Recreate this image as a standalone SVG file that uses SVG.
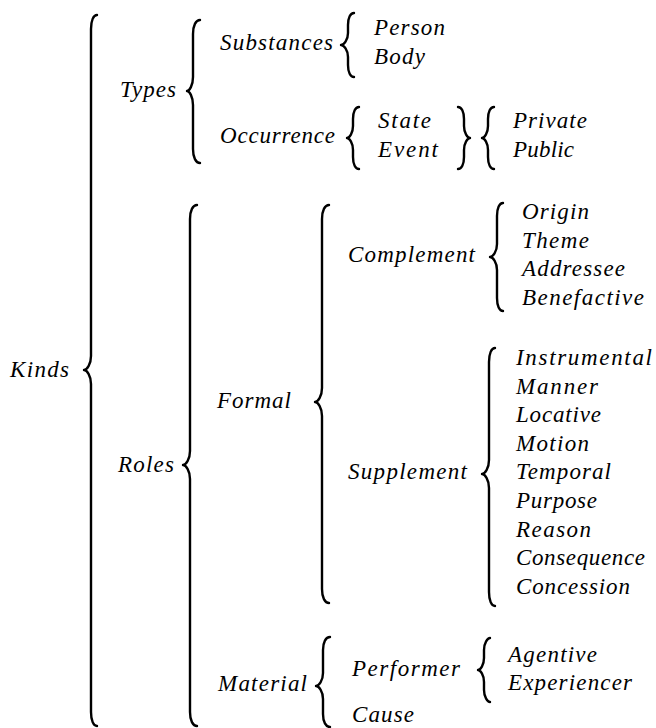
<svg xmlns="http://www.w3.org/2000/svg" width="656" height="728" viewBox="0 0 656 728">
<style>
.br{fill:none;stroke:#000;stroke-width:2.4;stroke-linecap:round;stroke-linejoin:round}
text{font-family:'Liberation Serif','DejaVu Serif',serif;font-style:italic;font-size:23px;fill:#000}
</style>
<rect width="656" height="728" fill="#fff"/>
<g id="connectors">
<path class="br" d="M97,15 C93.4,15 91,20.6 91,29 L91,356 C91,364.4 86.8,370 84,370 C86.8,370 91,375.6 91,384 L91,712 C91,720.4 93.4,726 97,726"/>
<path class="br" d="M200,20 C195.8,20 193,25.6 193,34 L193,77 C193,85.4 189.4,91 187,91 C189.4,91 193,96.6 193,105 L193,149 C193,157.4 195.8,163 200,163"/>
<path class="br" d="M354,13 C350.4,13 348,17.8 348,25 L348,33 C348,40.2 343.8,45 341,45 C343.8,45 348,49.8 348,57 L348,65 C348,72.2 350.4,77 354,77"/>
<path class="br" d="M359,107 C355.4,107 353,111.8 353,119 L353,126 C353,133.2 349.4,138 347,138 C349.4,138 353,142.8 353,150 L353,157 C353,164.2 355.4,169 359,169"/>
<path class="br" d="M458,107 C461.6,107 464,111.8 464,119 L464,126 C464,133.2 467.6,138 470,138 C467.6,138 464,142.8 464,150 L464,157 C464,164.2 461.6,169 458,169"/>
<path class="br" d="M494,107 C490.4,107 488,111.8 488,119 L488,126 C488,133.2 484.4,138 482,138 C484.4,138 488,142.8 488,150 L488,157 C488,164.2 490.4,169 494,169"/>
<path class="br" d="M197,205 C192.8,205 190,210.6 190,219 L190,451 C190,459.4 185.8,465 183,465 C185.8,465 190,470.6 190,479 L190,712 C190,720.4 192.8,726 197,726"/>
<path class="br" d="M329,205 C324.8,205 322,210.6 322,219 L322,388 C322,396.4 317.8,402 315,402 C317.8,402 322,407.6 322,416 L322,589 C322,597.4 324.8,603 329,603"/>
<path class="br" d="M503,203 C499.4,203 497,208.2 497,216 L497,244 C497,251.8 492.8,257 490,257 C492.8,257 497,262.2 497,270 L497,298 C497,305.8 499.4,311 503,311"/>
<path class="br" d="M495,348 C491.4,348 489,353.6 489,362 L489,460 C489,468.4 484.8,474 482,474 C484.8,474 489,479.6 489,488 L489,592 C489,600.4 491.4,606 495,606"/>
<path class="br" d="M330,637 C325.8,637 323,642.2 323,650 L323,673 C323,680.8 318.8,686 316,686 C318.8,686 323,691.2 323,699 L323,714 C323,721.8 325.8,727 330,727"/>
<path class="br" d="M490,638 C487.6,638 484,642.8 484,650 L484,658 C484,665.2 480.4,670 478,670 C480.4,670 484,674.8 484,682 L484,690 C484,697.2 487.6,702 490,702"/>
</g>
<g id="kinds"><text x="10" y="377" textLength="59" lengthAdjust="spacing">Kinds</text></g>
<g id="types"><text x="120" y="97" textLength="56" lengthAdjust="spacing">Types</text></g>
<g id="substances"><text x="220" y="50" textLength="113" lengthAdjust="spacing">Substances</text></g>
<g id="person"><text x="374" y="35" textLength="71" lengthAdjust="spacing">Person</text></g>
<g id="body"><text x="374" y="64" textLength="51" lengthAdjust="spacing">Body</text></g>
<g id="occurrence"><text x="220" y="143" textLength="115" lengthAdjust="spacing">Occurrence</text></g>
<g id="state"><text x="378" y="128" textLength="53" lengthAdjust="spacing">State</text></g>
<g id="event"><text x="378" y="157" textLength="60" lengthAdjust="spacing">Event</text></g>
<g id="private"><text x="513" y="128" textLength="74" lengthAdjust="spacing">Private</text></g>
<g id="public"><text x="513" y="157" textLength="61" lengthAdjust="spacing">Public</text></g>
<g id="roles"><text x="118" y="472" textLength="56" lengthAdjust="spacing">Roles</text></g>
<g id="formal"><text x="217" y="408" textLength="74" lengthAdjust="spacing">Formal</text></g>
<g id="complement"><text x="348" y="262" textLength="127" lengthAdjust="spacing">Complement</text></g>
<g id="origin"><text x="522" y="219" textLength="67" lengthAdjust="spacing">Origin</text></g>
<g id="theme"><text x="522" y="247.5" textLength="67" lengthAdjust="spacing">Theme</text></g>
<g id="addressee"><text x="522" y="276" textLength="103" lengthAdjust="spacing">Addressee</text></g>
<g id="benefactive"><text x="522" y="304.5" textLength="122" lengthAdjust="spacing">Benefactive</text></g>
<g id="supplement"><text x="348" y="479" textLength="119" lengthAdjust="spacing">Supplement</text></g>
<g id="instrumental"><text x="516" y="365" textLength="136" lengthAdjust="spacing">Instrumental</text></g>
<g id="manner"><text x="516" y="393.6" textLength="82" lengthAdjust="spacing">Manner</text></g>
<g id="locative"><text x="516" y="422.2" textLength="85" lengthAdjust="spacing">Locative</text></g>
<g id="motion"><text x="516" y="450.8" textLength="73" lengthAdjust="spacing">Motion</text></g>
<g id="temporal"><text x="516" y="479.4" textLength="95" lengthAdjust="spacing">Temporal</text></g>
<g id="purpose"><text x="516" y="508" textLength="81" lengthAdjust="spacing">Purpose</text></g>
<g id="reason"><text x="516" y="536.6" textLength="75" lengthAdjust="spacing">Reason</text></g>
<g id="consequence"><text x="516" y="565.2" textLength="129" lengthAdjust="spacing">Consequence</text></g>
<g id="concession"><text x="516" y="593.8" textLength="114" lengthAdjust="spacing">Concession</text></g>
<g id="material"><text x="218" y="691" textLength="89" lengthAdjust="spacing">Material</text></g>
<g id="performer"><text x="352" y="676" textLength="108" lengthAdjust="spacing">Performer</text></g>
<g id="agentive"><text x="508" y="662" textLength="89" lengthAdjust="spacing">Agentive</text></g>
<g id="experiencer"><text x="508" y="690" textLength="124" lengthAdjust="spacing">Experiencer</text></g>
<g id="cause"><text x="352" y="722" textLength="62" lengthAdjust="spacing">Cause</text></g>
</svg>
